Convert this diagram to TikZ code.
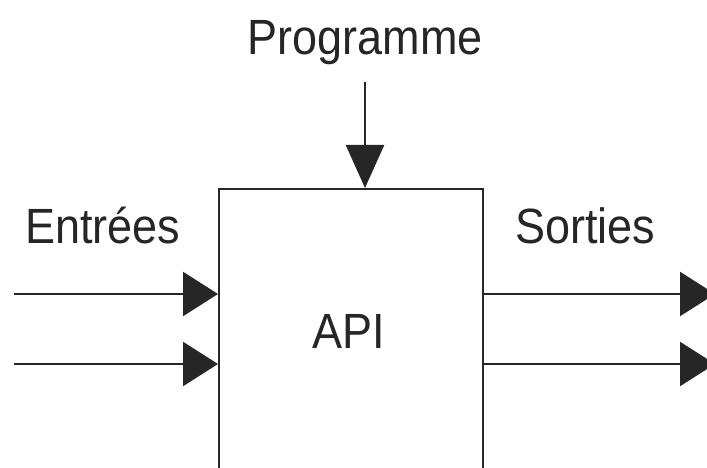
\documentclass[tikz,border=0pt]{standalone}
\usepackage{fontspec}
\setmainfont{Liberation Sans}
\usetikzlibrary{arrows.meta}
\definecolor{ink}{HTML}{262626}
\newcommand{\tallt}[1]{\scalebox{1}[1.1]{#1}}
\begin{document}
\begin{tikzpicture}[x=1pt,y=-1pt,
  line/.style={draw=ink,line width=2.4pt},
  harrow/.style={line,-{Triangle[length=35pt,width=44pt]}},
  varrow/.style={line,-{Triangle[length=43pt,width=38pt]}},
  lbl/.style={text=ink,font=\fontsize{45}{54}\selectfont,inner sep=0pt,anchor=base}]
\useasboundingbox (0,0) rectangle (707,468);
\clip (0,0) rectangle (707,468);
\fill[white] (0,0) rectangle (707,468);
\node[line,minimum width=264pt,minimum height=312pt,inner sep=0pt,anchor=north west] (box) at (218,188) {};
\node[lbl] (api) at (349,348) {\tallt{API}};
\node[lbl] (prog) at (365,55) {\tallt{Programme}};
\node[lbl,anchor=base west] (ent) at (25,243) {\tallt{Entrées}};
\node[lbl,anchor=base west] (sor) at (515,243) {\tallt{Sorties}};
\coordinate (top) at (365,82);
\coordinate (in1) at (14,294);
\coordinate (in2) at (14,364);
\coordinate (out1) at (715,294);
\coordinate (out2) at (715,364);
\draw[varrow] (top) -- (top |- box.north);
\draw[harrow] (in1) -- (in1 -| box.west);
\draw[harrow] (in2) -- (in2 -| box.west);
\draw[harrow] (out1 -| box.east) -- (out1);
\draw[harrow] (out2 -| box.east) -- (out2);
\end{tikzpicture}
\end{document}
